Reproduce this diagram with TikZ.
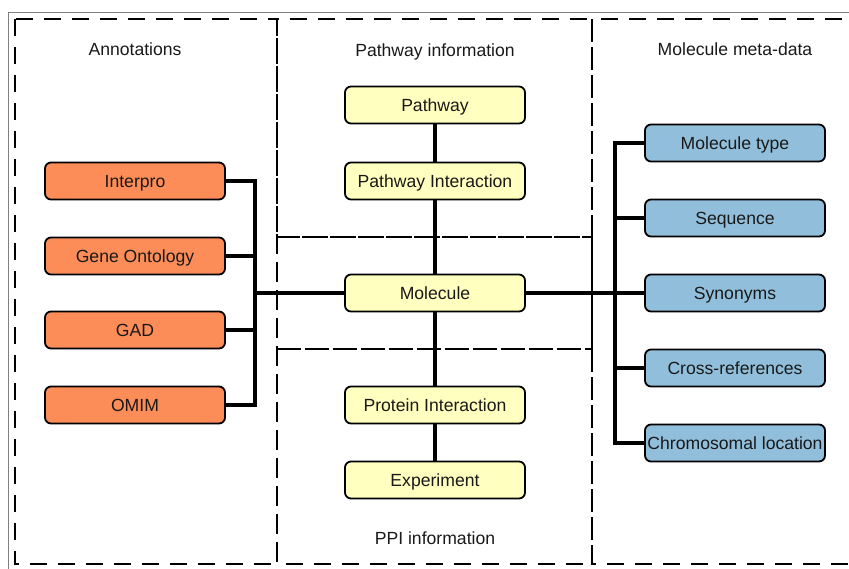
\documentclass[tikz,border=0pt]{standalone}
\usepackage{fontspec}
\setmainfont{Liberation Sans}
\begin{document}
\begin{tikzpicture}[x=1pt,y=-1pt,
  box/.style={draw=black,line width=1.8pt,rounded corners=6pt,minimum width=180pt,minimum height=37pt,inner xsep=0pt,text height=12.6pt,text depth=0pt,font=\fontsize{17.6}{20}\selectfont,text=black!90},
  orangebox/.style={box,fill={rgb,255:red,252;green,141;blue,89}},
  yellowbox/.style={box,fill={rgb,255:red,255;green,255;blue,191}},
  bluebox/.style={box,fill={rgb,255:red,145;green,191;blue,219}},
  conn/.style={line width=3.2pt},
  frame/.style={line width=1.8pt,dash pattern=on 17pt off 11pt},
  title/.style={font=\fontsize{17.6}{20}\selectfont,text=black!90,text height=12.6pt,text depth=0pt}]
\useasboundingbox (0,0) rectangle (849,568);
\clip (0,0) rectangle (849,568);
% outer solid frame
\draw[gray,line width=1pt] (8,12) rectangle (900,620);
% dashed regions
\draw[frame] (15,19) rectangle (277,564);
\draw[frame] (592,19) rectangle (900,564);
\draw[frame] (277,19) rectangle (592,237);
\draw[frame] (277,237) rectangle (592,349);
\draw[frame] (277,349) rectangle (592,564);
% titles
\node[title] (tann) at (135,49) {Annotations};
\node[title] (tpath) at (435,50) {Pathway information};
\node[title] (tmeta) at (735,49) {Molecule meta-data};
\node[title] (tppi) at (435,538) {PPI information};
% nodes
\node[yellowbox] (pathway) at (435,105) {Pathway};
\node[yellowbox] (pint) at (435,181) {Pathway Interaction};
\node[yellowbox] (molecule) at (435,293) {Molecule};
\node[yellowbox] (prot) at (435,405) {Protein Interaction};
\node[yellowbox] (exp) at (435,480) {Experiment};
\node[orangebox] (interpro) at (135,181) {Interpro};
\node[orangebox] (go) at (135,256) {Gene Ontology};
\node[orangebox] (gad) at (135,330) {GAD};
\node[orangebox] (omim) at (135,405) {OMIM};
\node[bluebox] (mtype) at (735,143) {Molecule type};
\node[bluebox] (seq) at (735,218) {Sequence};
\node[bluebox] (syn) at (735,293) {Synonyms};
\node[bluebox] (xref) at (735,368) {Cross-references};
\node[bluebox] (chrom) at (735,443) {Chromosomal location};
\coordinate (lbx) at (255,0);
\coordinate (rbx) at (615,0);
% connectors
\draw[conn] (pathway.south) -- (pint.north);
\draw[conn] (pint.south) -- (molecule.north);
\draw[conn] (molecule.south) -- (prot.north);
\draw[conn] (prot.south) -- (exp.north);
\draw[conn] (interpro.east) -| (lbx |- omim.east) -- (omim.east);
\draw[conn] (go.east) -- (go.east -| lbx);
\draw[conn] (gad.east) -- (gad.east -| lbx);
\draw[conn] (molecule.west) -- (molecule.west -| lbx);
\draw[conn] (mtype.west) -| (rbx |- chrom.west) -- (chrom.west);
\draw[conn] (seq.west) -- (seq.west -| rbx);
\draw[conn] (xref.west) -- (xref.west -| rbx);
\draw[conn] (molecule.east) -- (syn.west);
\end{tikzpicture}
\end{document}
